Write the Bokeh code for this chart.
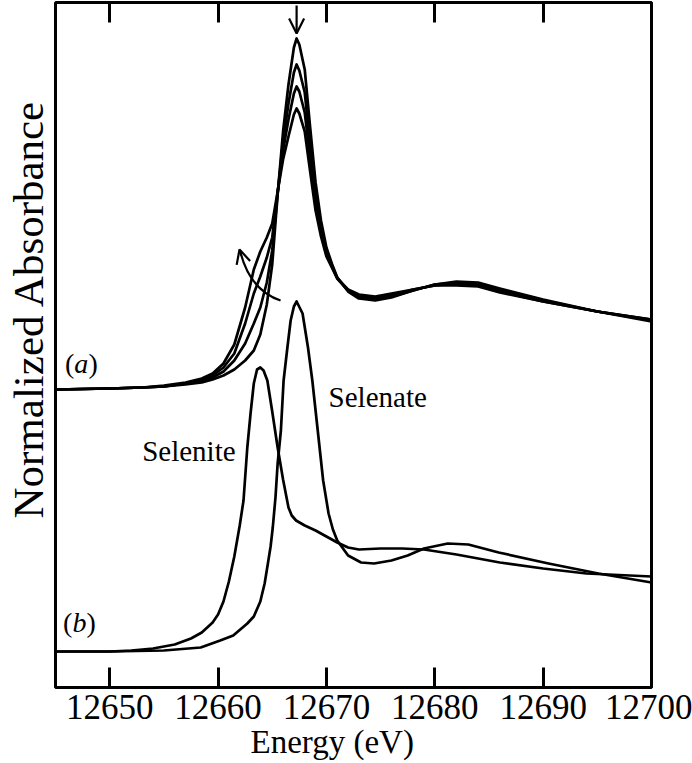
from bokeh.plotting import figure
from bokeh.models import Range1d, LinearAxis, FixedTicker, Label, Arrow, OpenHead, Title
from bokeh.embed import file_html
from bokeh.resources import INLINE

# ---------------- data ----------------
# (a) time series of Se K-edge XANES spectra (shared energy grid, eV)
energy_a = [12645, 12650, 12653, 12655, 12657, 12658.5, 12659.5, 12660.5, 12661.5, 12662.5,
            12663.3, 12663.9, 12664.5, 12665, 12665.5, 12666, 12666.5, 12667, 12667.25, 12667.5,
            12668, 12668.5, 12669, 12669.5, 12670, 12670.5, 12671, 12672, 12673, 12674.5,
            12676, 12678, 12680, 12682, 12684, 12686, 12690, 12695, 12700]
mu_a1 = [0.00, 0.01, 0.02, 0.03, 0.05, 0.07, 0.10, 0.14, 0.20, 0.29,
         0.39, 0.55, 0.85, 1.25, 1.95, 2.58, 3.05, 3.42, 3.51, 3.45,
         3.20, 2.62, 2.07, 1.69, 1.42, 1.26, 1.12, 0.98, 0.91, 0.89,
         0.92, 0.99, 1.05, 1.08, 1.07, 1.01, 0.90, 0.78, 0.68]
mu_a2 = [0.00, 0.01, 0.02, 0.03, 0.06, 0.08, 0.12, 0.18, 0.29, 0.46,
         0.66, 0.82, 1.07, 1.39, 1.96, 2.48, 2.86, 3.17, 3.25, 3.19,
         2.97, 2.45, 1.97, 1.63, 1.39, 1.24, 1.12, 0.99, 0.92, 0.91,
         0.93, 0.99, 1.05, 1.07, 1.05, 1.00, 0.89, 0.78, 0.69]
mu_a3 = [0.00, 0.01, 0.02, 0.03, 0.06, 0.10, 0.14, 0.22, 0.36, 0.66,
         0.96, 1.13, 1.32, 1.52, 1.97, 2.39, 2.70, 2.96, 3.03, 2.98,
         2.77, 2.31, 1.88, 1.58, 1.36, 1.23, 1.11, 0.99, 0.93, 0.92,
         0.94, 1.00, 1.04, 1.06, 1.04, 0.98, 0.88, 0.78, 0.70]
mu_a4 = [0.00, 0.01, 0.02, 0.04, 0.07, 0.11, 0.16, 0.26, 0.45, 0.82,
         1.20, 1.38, 1.52, 1.66, 1.98, 2.30, 2.53, 2.75, 2.81, 2.76,
         2.58, 2.18, 1.79, 1.53, 1.33, 1.22, 1.11, 1.00, 0.95, 0.93,
         0.96, 1.00, 1.04, 1.04, 1.03, 0.97, 0.88, 0.78, 0.70]

# (b) reference compounds
energy_selenate = [12645, 12650, 12655, 12658.4, 12660.2, 12661.4, 12662.7, 12663.3, 12663.9, 12664.3,
                   12664.6, 12664.85, 12665.05, 12665.3, 12665.5, 12665.8, 12666.05, 12666.4, 12666.7, 12667.0,
                   12667.25, 12667.8, 12668.3, 12668.7, 12669.2, 12669.7, 12670.2, 12670.6, 12671.0, 12672,
                   12673.2, 12674.4, 12676, 12677.5, 12679, 12681.2, 12683.1, 12685.9, 12690.5, 12695.1,
                   12700]
mu_selenate = [0.00, 0.00, 0.01, 0.04, 0.11, 0.16, 0.28, 0.35, 0.50, 0.68,
               0.88, 1.05, 1.24, 1.54, 1.88, 2.21, 2.71, 3.04, 3.31, 3.45,
               3.50, 3.38, 3.04, 2.71, 2.21, 1.71, 1.38, 1.22, 1.11, 0.96,
               0.89, 0.88, 0.91, 0.96, 1.03, 1.08, 1.07, 0.99, 0.88, 0.78,
               0.69]
energy_selenite = [12645, 12650, 12652, 12654, 12656, 12657.5, 12658.5, 12659.5, 12660, 12660.5,
                   12661, 12661.5, 12662, 12662.35, 12662.7, 12663, 12663.3, 12663.6, 12663.9, 12664.2,
                   12664.55, 12665, 12665.5, 12666, 12666.5, 12666.8, 12667.2, 12668, 12669, 12670,
                   12671, 12672, 12673, 12675, 12677, 12679, 12682, 12686, 12690, 12694,
                   12700]
mu_selenite = [0.00, 0.00, 0.01, 0.03, 0.07, 0.13, 0.19, 0.29, 0.37, 0.50,
               0.70, 0.95, 1.26, 1.51, 2.04, 2.38, 2.68, 2.82, 2.84, 2.81,
               2.71, 2.40, 2.04, 1.72, 1.44, 1.36, 1.31, 1.26, 1.21, 1.15,
               1.09, 1.04, 1.02, 1.03, 1.03, 1.02, 0.97, 0.89, 0.83, 0.78,
               0.75]

offset_a = 2.98   # vertical stacking offsets
offset_b = 0.36
x_ticks = [12650, 12660, 12670, 12680, 12690, 12700]

# ---------------- figure ----------------
FONT = "Liberation Serif"
p = figure(width=692, height=763,
           x_range=Range1d(12645, 12700), y_range=Range1d(0, 6.85),
           output_backend="svg", toolbar_location=None,
           y_axis_location=None,
           min_border_left=55, min_border_right=41,
           min_border_top=2, min_border_bottom=76)
p.xgrid.visible = False
p.ygrid.visible = False
p.background_fill_color = "white"
p.border_fill_color = "white"
p.outline_line_color = "black"
p.outline_line_width = 3

ax = p.xaxis[0]
ax.ticker = FixedTicker(ticks=x_ticks)
ax.axis_line_color = None
ax.major_tick_in = 20
ax.major_tick_out = 0
ax.major_tick_line_width = 3
ax.major_tick_line_color = "black"
ax.minor_tick_line_color = None
ax.major_label_text_font = FONT
ax.major_label_text_font_size = "35px"
ax.major_label_text_color = "black"
ax.major_label_standoff = 7

top = LinearAxis(ticker=FixedTicker(ticks=x_ticks), axis_line_color=None,
                 major_tick_in=20, major_tick_out=0, major_tick_line_width=3,
                 major_tick_line_color="black", minor_tick_line_color=None,
                 major_label_overrides={t: "" for t in x_ticks},
                 major_label_text_font_size="1px", major_label_standoff=0)
p.add_layout(top, "above")

# axis titles
p.add_layout(Title(text="Energy (eV)", align="left", offset=195, vertical_align="bottom",
                   standoff=0, text_font=FONT, text_font_size="33px",
                   text_font_style="normal", text_color="black"), "below")
p.add_layout(Title(text="Normalized Absorbance", align="left", offset=169, vertical_align="top",
                   standoff=4, text_font=FONT, text_font_size="43px",
                   text_font_style="normal", text_color="black"), "left")

LW = 2.7
for mu in (mu_a1, mu_a2, mu_a3, mu_a4):
    p.line(energy_a, [m + offset_a for m in mu], line_color="black",
           line_width=LW, line_join="round")
p.line(energy_selenate, [m + offset_b for m in mu_selenate], line_color="black",
       line_width=LW, line_join="round")
p.line(energy_selenite, [m + offset_b for m in mu_selenite], line_color="black",
       line_width=LW, line_join="round")

# arrows
p.add_layout(Arrow(end=OpenHead(size=15, line_width=2.2, line_color="black"),
                   x_start=12667.25, y_start=6.82, x_end=12667.25, y_end=6.54,
                   line_width=2.2, line_color="black"))
p.quadratic(x0=[12665.77], y0=[3.87], x1=[12662.07], y1=[4.35],
            cx=[12662.99], cy=[3.97], line_color="black", line_width=2.2)
p.add_layout(Arrow(end=OpenHead(size=14, line_width=2.2, line_color="black"),
                   x_start=12662.14, y_start=4.32, x_end=12661.98, y_end=4.38,
                   line_width=2.2, line_color="black"))

def lab(x, y, text, size, style="normal"):
    p.add_layout(Label(x=x, y=y, text=text, text_font=FONT, text_font_size=size,
                       text_font_style=style, text_color="black", text_align="left",
                       text_baseline="alphabetic"))

# panel labels (a), (b)
lab(12645.88, 3.24, "(", "28px")
lab(12646.74, 3.24, "a", "28px", "italic")
lab(12648.04, 3.24, ")", "28px")
lab(12645.70, 0.65, "(", "28px")
lab(12646.56, 0.65, "b", "28px", "italic")
lab(12647.86, 0.65, ")", "28px")

lab(12653.0, 2.37, "Selenite", "29px")
lab(12670.2, 2.91, "Selenate", "29px")

open("out.html", "w").write(file_html(p, INLINE, title="XANES"))
